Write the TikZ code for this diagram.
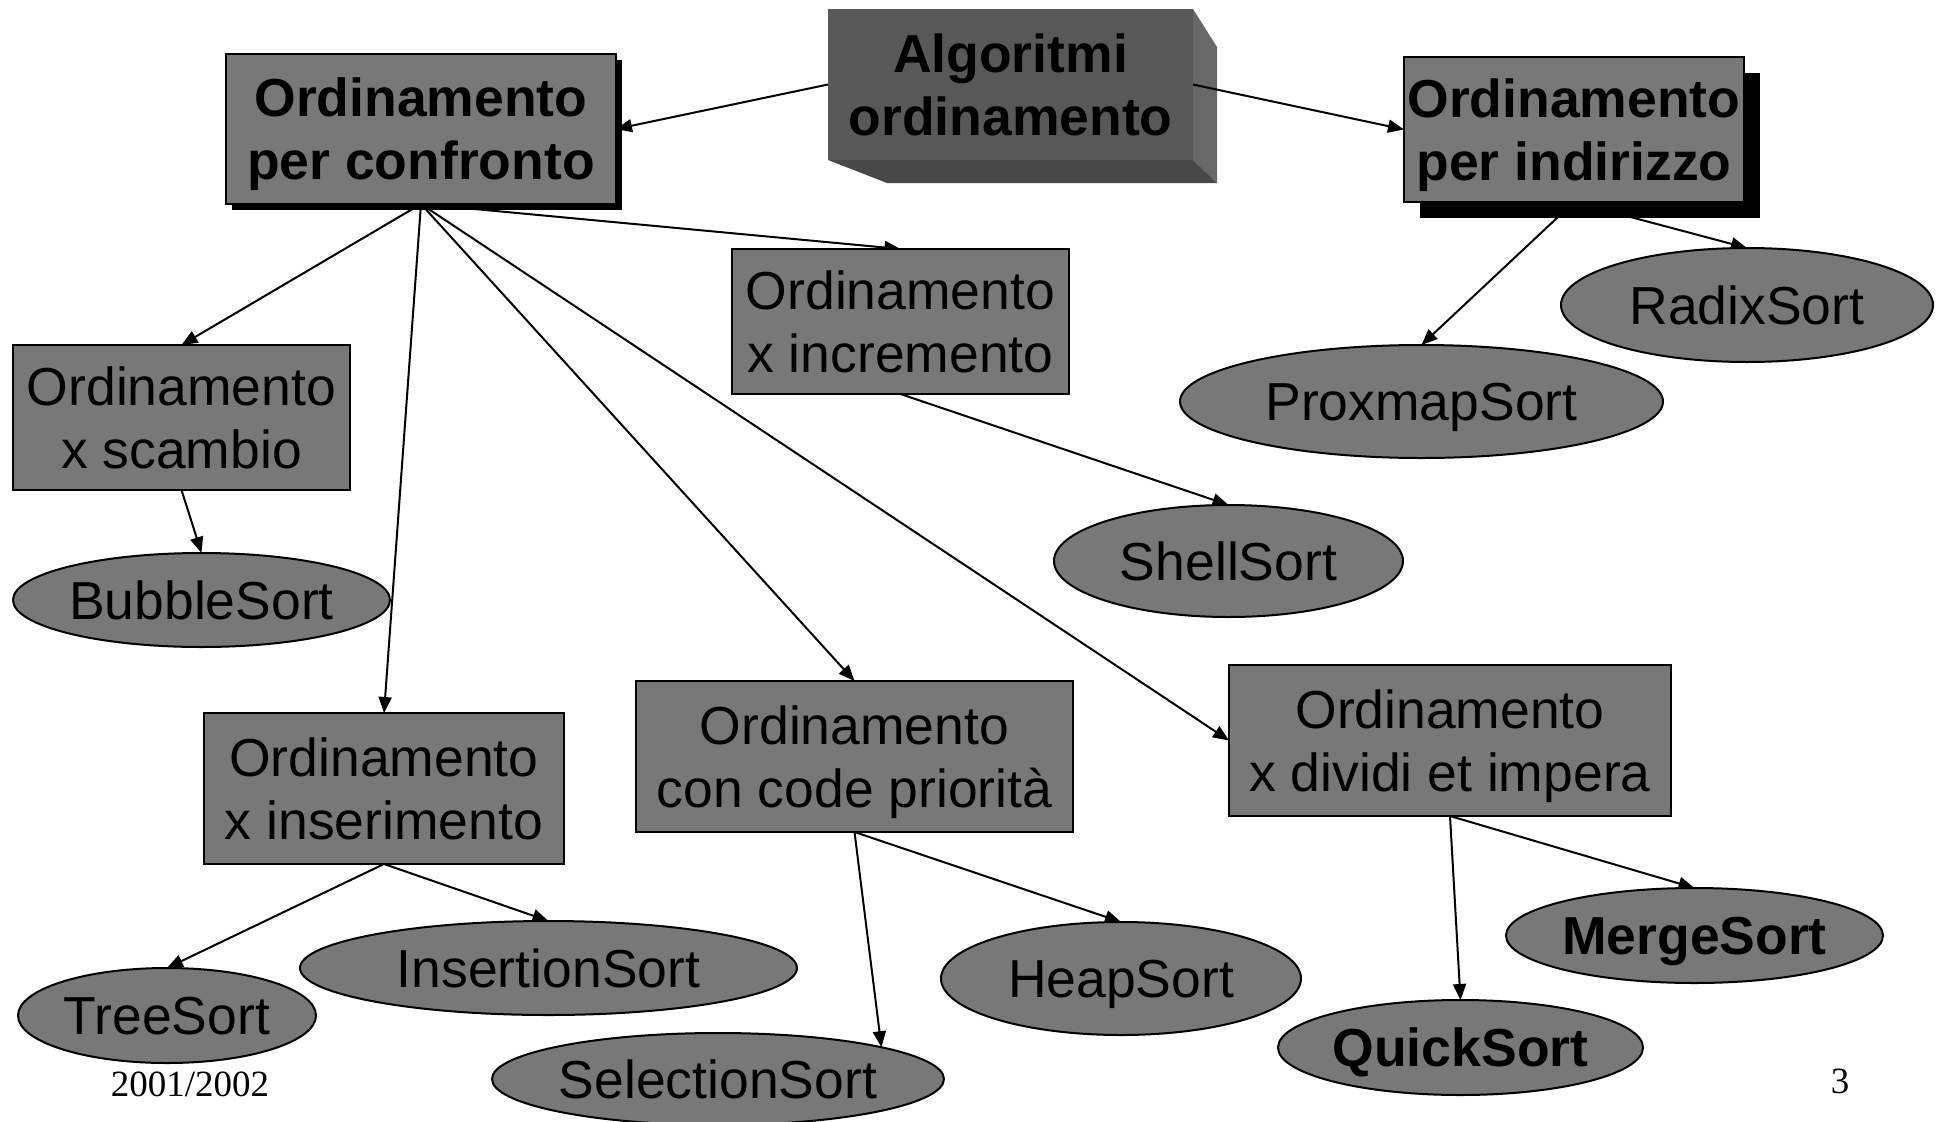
\documentclass[tikz,border=0pt]{standalone}
\usepackage{fontspec}
\setmainfont{Liberation Sans}
\newfontfamily\footfont{Liberation Serif}
\usetikzlibrary{arrows.meta,shapes.geometric,shadows}
\pgfdeclarelayer{bg}
\pgfsetlayers{bg,main}
\definecolor{boxgray}{RGB}{120,120,120}
\definecolor{algofront}{RGB}{88,88,88}
\definecolor{algoright}{RGB}{104,104,104}
\definecolor{algobottom}{RGB}{72,72,72}
\begin{document}
\begin{tikzpicture}[x=1pt,y=-1pt,
  every node/.style={inner sep=0pt, outer sep=0pt, text depth=0pt, font=\fontsize{53.5}{63}\selectfont},
  rbox/.style={draw=black, line width=2.2pt, fill=boxgray, rectangle, align=center},
  bbox/.style={rbox, font=\fontsize{53.5}{63}\selectfont\bfseries},
  oval/.style={draw=black, line width=2pt, fill=boxgray, ellipse},
  boval/.style={oval, font=\fontsize{53.5}{63}\selectfont\bfseries},
  conn/.style={line width=2pt, -{Triangle[length=16pt,width=13pt]}},
  foot/.style={font=\footfont\fontsize{37}{42}\selectfont},
]
\useasboundingbox (0,0) rectangle (1939,1122);
\clip (0,0) rectangle (1939,1122);

% top level
\node[fill=algofront, align=center, minimum width=365pt, minimum height=151pt,
      font=\fontsize{53.5}{63}\selectfont\bfseries] (algo) at (1010.5,84.5) {Algoritmi\\ordinamento};

\node[bbox, minimum width=390pt, minimum height=150pt,
      drop shadow={shadow xshift=6pt, shadow yshift=-6pt, fill=black, opacity=1}]
      (conf) at (421,129) {Ordinamento\\per confronto};
\node[bbox, minimum width=340pt, minimum height=145pt,
      drop shadow={shadow xshift=16pt, shadow yshift=-16pt, fill=black, opacity=1}]
      (indir) at (1574,129.5) {Ordinamento\\per indirizzo};

% second level boxes
\node[rbox, minimum width=337pt, minimum height=145pt] (scambio) at (181.5,417.5) {Ordinamento\\x scambio};
\node[rbox, minimum width=337pt, minimum height=145pt] (incr) at (900.5,321.5) {Ordinamento\\x incremento};
\node[rbox, minimum width=360pt, minimum height=151pt] (inser) at (384,788.5) {Ordinamento\\x inserimento};
\node[rbox, minimum width=437pt, minimum height=151pt] (codep) at (854.5,756.5) {Ordinamento\\con code priorità};
\node[rbox, minimum width=442pt, minimum height=151pt] (divid) at (1450,740.5) {Ordinamento\\x dividi et impera};

% leaves
\node[oval, minimum width=377pt, minimum height=94pt] (bubble) at (201.5,600) {BubbleSort};
\node[oval, minimum width=349pt, minimum height=112pt] (shell) at (1228.5,561) {ShellSort};
\node[oval, minimum width=483pt, minimum height=113pt] (proxmap) at (1421.5,401.5) {ProxmapSort};
\node[oval, minimum width=372pt, minimum height=114pt] (radix) at (1747,305) {RadixSort};
\node[oval, minimum width=298pt, minimum height=95pt] (tree) at (167,1015.5) {TreeSort};
\node[oval, minimum width=497pt, minimum height=94pt] (insertion) at (548.5,968) {InsertionSort};
\node[oval, minimum width=452pt, minimum height=92pt] (selection) at (718,1079) {SelectionSort};
\node[oval, minimum width=360pt, minimum height=113pt] (heap) at (1121,978.5) {HeapSort};
\node[boval, minimum width=377pt, minimum height=95pt] (merge) at (1694.5,935.5) {MergeSort};
\node[boval, minimum width=365pt, minimum height=95pt] (quick) at (1460.5,1047.5) {QuickSort};

% footer
\node[foot] (year) at (190,1084) {2001/2002};
\node[foot] (page) at (1840,1081) {3};

\begin{pgfonlayer}{bg}
\fill[white] (0,0) rectangle (1939,1122);
\fill[algoright] (algo.north east) -- ++(24,38) -- ++(0,136) -- (algo.south east) -- cycle;
\fill[algobottom] (algo.south west) -- ++(59,23) -- ++(330,0) -- (algo.south east) -- cycle;
\draw[conn] (algo.west) -- (conf.east);
\draw[conn] (algo.east) -- (indir.west);
\draw[conn] (conf.south) -- (scambio.north);
\draw[conn] (conf.south) -- (inser.north);
\draw[conn] (conf.south) -- (codep.north);
\draw[conn] (conf.south) -- (divid.west);
\draw[conn] (conf.south) -- (incr.north);
\draw[conn] (scambio.south) -- (bubble.north);
\draw[conn] (incr.south) -- (shell.north);
\draw[conn] (indir.south) -- (proxmap.north);
\draw[conn] (indir.south) -- (radix.north);
\draw[conn] (inser.south) -- (tree.north);
\draw[conn] (inser.south) -- (insertion.north);
\draw[conn] (codep.south) -- (selection.11);
\draw[conn] (codep.south) -- (heap.north);
\draw[conn] (divid.south) -- (quick.north);
\draw[conn] (divid.south) -- (merge.north);
\end{pgfonlayer}
\end{tikzpicture}
\end{document}
